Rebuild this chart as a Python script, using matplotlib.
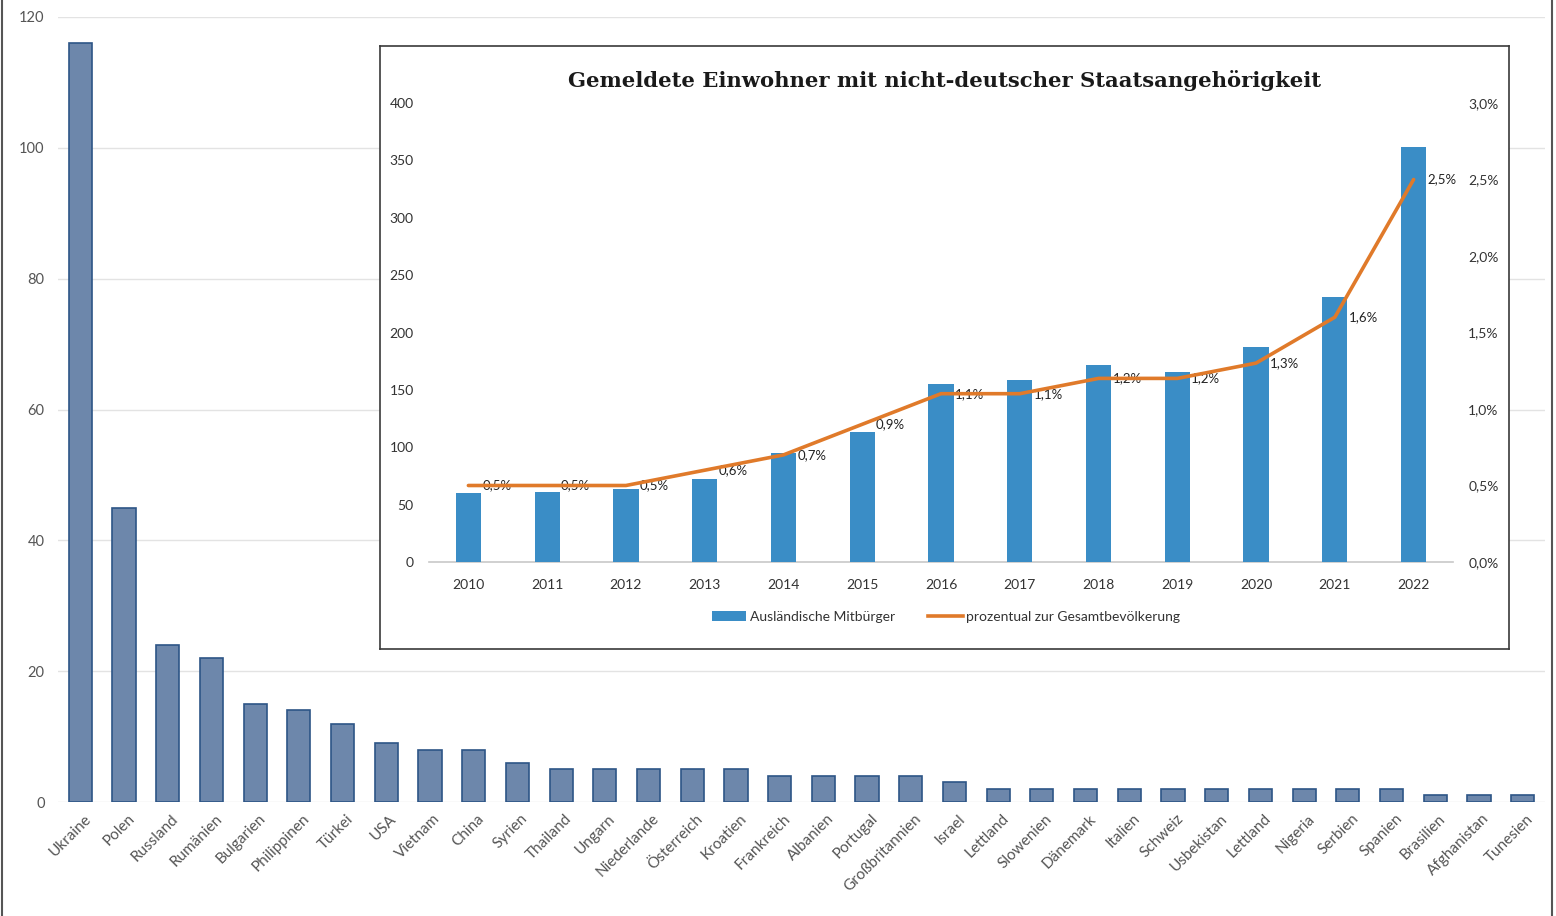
import matplotlib
matplotlib.use("Agg")
import matplotlib.pyplot as plt
from matplotlib.lines import Line2D
from matplotlib.patches import Patch
import matplotlib.transforms as mtransforms

# ---------------- data ----------------
countries = ["Ukraine", "Polen", "Russland", "Rumänien", "Bulgarien", "Philippinen",
             "Türkei", "USA", "Vietnam", "China", "Syrien", "Thailand", "Ungarn",
             "Niederlande", "Österreich", "Kroatien", "Frankreich", "Albanien",
             "Portugal", "Großbritannien", "Israel", "Lettland", "Slowenien",
             "Dänemark", "Italien", "Schweiz", "Usbekistan", "Lettland", "Nigeria",
             "Serbien", "Spanien", "Brasilien", "Afghanistan", "Tunesien"]
country_values = [116, 45, 24, 22, 15, 14, 12, 9, 8, 8, 6, 5, 5, 5, 5, 5, 4, 4, 4, 4,
                  3, 2, 2, 2, 2, 2, 2, 2, 2, 2, 2, 1, 1, 1]
main_yticks = [0, 20, 40, 60, 80, 100, 120]

years = ["2010", "2011", "2012", "2013", "2014", "2015", "2016", "2017", "2018",
         "2019", "2020", "2021", "2022"]
foreigners = [60, 61, 64, 72, 95, 113, 155, 159, 172, 166, 187, 231, 362]
share_pct = [0.5, 0.5, 0.5, 0.6, 0.7, 0.9, 1.1, 1.1, 1.2, 1.2, 1.3, 1.6, 2.5]
inset_yticks = [0, 50, 100, 150, 200, 250, 300, 350, 400]
inset_pct_ticks = [0.0, 0.5, 1.0, 1.5, 2.0, 2.5, 3.0]

title = "Gemeldete Einwohner mit nicht-deutscher Staatsangehörigkeit"
legend_bar = "Ausländische Mitbürger"
legend_line = "prozentual zur Gesamtbevölkerung"

# ---------------- figure ----------------
W, H = 1556, 916
fig = plt.figure(figsize=(W / 100, H / 100), dpi=100)
fig.patch.set_facecolor("white")
plt.rcParams["font.family"] = ["Lato", "DejaVu Sans"]

def fx(px):
    return px / W

def fy(py):
    return (H - py) / H

# ---------------- main chart ----------------
ax = fig.add_axes([fx(58.5), fy(802), fx(1544.5) - fx(58.5), fy(17) - fy(802)])
x = list(range(len(countries)))
ax.bar(x, country_values, width=0.53, color="#6D87AB", edgecolor="#2D5586",
       linewidth=1.2, zorder=3)
ax.set_xlim(-0.5, len(countries) - 0.5)
ax.set_ylim(0, 120)
ax.set_yticks(main_yticks)
ax.yaxis.grid(True, color="#E3E3E3", linewidth=1.0, zorder=0)
ax.set_axisbelow(True)
for s in ax.spines.values():
    s.set_visible(False)
ax.tick_params(axis="both", length=0, colors="#555555", labelsize=10.5)
ax.tick_params(axis="y", pad=10)
ax.set_xticks(x)
ax.set_xticklabels(countries, rotation=45, ha="right", va="center",
                   rotation_mode="anchor", fontsize=11, color="#555555")
offset = mtransforms.ScaledTranslation(6 / 72, -7 / 72, fig.dpi_scale_trans)
for lab in ax.get_xticklabels():
    lab.set_transform(lab.get_transform() + offset)

# ---------------- inset box ----------------
box = fig.add_axes([fx(380), fy(649), fx(1509) - fx(380), fy(46) - fy(649)])
box.set_xticks([])
box.set_yticks([])
box.set_facecolor("white")
for s in box.spines.values():
    s.set_color("#3A3A3A")
    s.set_linewidth(1.2)
box.set_zorder(5)

fig.text(fx(944), fy(81), title, ha="center", va="center", fontsize=15.2,
         fontweight="bold", family="DejaVu Serif", color="#1A1A1A", zorder=10)

# ---------------- inset chart ----------------
ax2 = fig.add_axes([fx(429), fy(562), fx(1453) - fx(429), fy(103) - fy(562)])
ax2.set_zorder(6)
ax2.patch.set_alpha(0)
xi = list(range(len(years)))
ax2.bar(xi, foreigners, width=0.32, color="#3A8DC6", zorder=3)
ax2.set_xlim(-0.5, len(years) - 0.5)
ax2.set_ylim(0, 400)
ax2.set_yticks(inset_yticks)
ax2.set_xticks(xi)
ax2.set_xticklabels(years)
for k, s in ax2.spines.items():
    s.set_visible(k == "bottom")
ax2.spines["bottom"].set_color("#C8C8C8")
ax2.spines["bottom"].set_linewidth(1.2)
ax2.tick_params(axis="both", length=0, colors="#333333", labelsize=10)
ax2.tick_params(axis="y", pad=11)
ax2.tick_params(axis="x", pad=12)

ax3 = ax2.twinx()
ax3.set_zorder(7)
ax3.patch.set_alpha(0)
ax3.plot(xi, share_pct, color="#E07A2A", linewidth=2.6, solid_capstyle="round", zorder=4)
ax3.set_ylim(0, 3.0)
ax3.set_yticks(inset_pct_ticks)
ax3.set_yticklabels([f"{v:.1f}".replace(".", ",") + "%" for v in inset_pct_ticks])
for s in ax3.spines.values():
    s.set_visible(False)
ax3.tick_params(axis="y", length=0, colors="#333333", labelsize=10, pad=11)
for xv, v in zip(xi, share_pct):
    ax3.annotate(f"{v:.1f}".replace(".", ",") + "%", (xv, v), xytext=(10, 0),
                 textcoords="offset points", ha="left", va="center",
                 fontsize=9.5, color="#222222")

handles = [Patch(facecolor="#3A8DC6", edgecolor="none"),
           Line2D([0], [0], color="#E07A2A", linewidth=2.6)]
leg = ax3.legend(handles, [legend_bar, legend_line], loc="center", ncol=2,
                 bbox_to_anchor=(fx(946), fy(617)), bbox_transform=fig.transFigure,
                 frameon=False, fontsize=10, handlelength=2.5, columnspacing=2.4,
                 handletextpad=0.25)
for t in leg.get_texts():
    t.set_color("#333333")

# ---------------- page borders ----------------
fig.add_artist(Line2D([fx(2), fx(2)], [0, 1], color="#555555", linewidth=1.5))
fig.add_artist(Line2D([fx(1552), fx(1552)], [0, 1], color="#555555", linewidth=1.5))

fig.savefig("out.png", dpi=100, facecolor="white")
